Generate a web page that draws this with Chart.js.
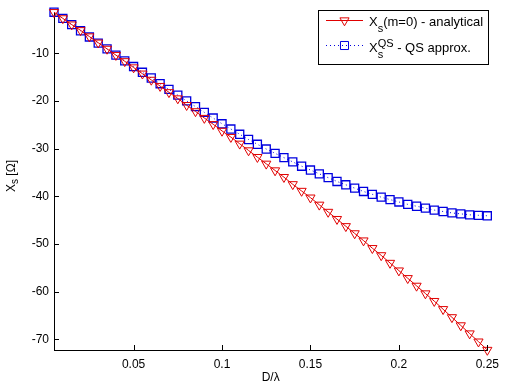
<!DOCTYPE html>
<html>
<head>
<meta charset="utf-8">
<script src="https://cdn.jsdelivr.net/npm/chart.js@4.4.1/dist/chart.umd.min.js"></script>
<style>
  html, body { margin: 0; padding: 0; background: #fff; }
  canvas { display: block; }
</style>
</head>
<body>
<canvas id="c" width="506" height="391"></canvas>
<script>
// ---- data ----
const dOverLambda = [0.005,0.01,0.015,0.02,0.025,0.03,0.035,0.04,0.045,0.05,
  0.055,0.06,0.065,0.07,0.075,0.08,0.085,0.09,0.095,0.1,
  0.105,0.11,0.115,0.12,0.125,0.13,0.135,0.14,0.145,0.15,
  0.155,0.16,0.165,0.17,0.175,0.18,0.185,0.19,0.195,0.2,
  0.205,0.21,0.215,0.22,0.225,0.23,0.235,0.24,0.245,0.25];
const xsAnalytical = [-1.4,-2.7,-4.0,-5.2,-6.5,-7.8,-9.1,-10.4,-11.7,-13.0,
  -14.3,-15.6,-16.9,-18.2,-19.5,-20.9,-22.2,-23.6,-24.9,-26.3,
  -27.6,-29.0,-30.4,-31.8,-33.2,-34.6,-36.0,-37.5,-38.9,-40.3,
  -41.8,-43.3,-44.8,-46.3,-47.8,-49.3,-50.9,-52.4,-54.0,-55.6,
  -57.2,-58.8,-60.4,-62.0,-63.7,-65.4,-67.1,-68.8,-70.5,-72.25];
const xsQS = [-1.4,-2.7,-4.0,-5.3,-6.6,-7.9,-9.1,-10.4,-11.6,-12.8,
  -14.0,-15.2,-16.4,-17.6,-18.8,-20.0,-21.2,-22.4,-23.6,-24.8,
  -25.9,-27.0,-28.1,-29.1,-30.1,-31.0,-31.9,-32.8,-33.7,-34.5,
  -35.3,-36.1,-36.9,-37.6,-38.3,-39.0,-39.6,-40.2,-40.7,-41.2,
  -41.7,-42.1,-42.5,-42.9,-43.2,-43.5,-43.7,-43.9,-44.0,-44.1];
const xTicks = [0.05, 0.1, 0.15, 0.2, 0.25];
const yTicks = [-70, -60, -50, -40, -30, -20, -10];

const FONT = '"Liberation Sans", Arial, Helvetica, sans-serif';
const RED = '#e00000';
const BLUE = '#0000e0';

Chart.defaults.color = '#000';
Chart.defaults.font.family = FONT;
Chart.defaults.font.size = 12;

function pts(xs, ys) { return xs.map((x, i) => ({ x: x, y: ys[i] })); }

function drawMarker(ctx, style, x, y, r, rot, color) {
  ctx.save();
  ctx.strokeStyle = color;
  ctx.lineWidth = 1;
  ctx.setLineDash([]);
  ctx.beginPath();
  if (style === 'triangle') {
    let rad = rot * Math.PI / 180;
    ctx.moveTo(x + Math.sin(rad) * r, y - Math.cos(rad) * r);
    rad += 2 * Math.PI / 3;
    ctx.lineTo(x + Math.sin(rad) * r, y - Math.cos(rad) * r);
    rad += 2 * Math.PI / 3;
    ctx.lineTo(x + Math.sin(rad) * r, y - Math.cos(rad) * r);
    ctx.closePath();
  } else {
    const s = Math.SQRT1_2 * r;
    ctx.rect(x - s, y - s, 2 * s, 2 * s);
  }
  ctx.stroke();
  ctx.restore();
}

const decorPlugin = {
  id: 'decor',
  afterDraw(chart) {
    const ctx = chart.ctx;
    const xs = chart.scales.x, ys = chart.scales.y;
    const a = chart.chartArea;
    ctx.save();
    // inward tick marks
    ctx.strokeStyle = '#000';
    ctx.lineWidth = 1;
    ctx.beginPath();
    xTicks.forEach(v => {
      const px = Math.round(xs.getPixelForValue(v)) + 0.5;
      ctx.moveTo(px, a.bottom);
      ctx.lineTo(px, a.bottom - 5);
    });
    yTicks.forEach(v => {
      const py = Math.round(ys.getPixelForValue(v)) + 0.5;
      ctx.moveTo(a.left, py);
      ctx.lineTo(a.left + 5, py);
    });
    ctx.stroke();

    // axis titles
    ctx.fillStyle = '#000';
    ctx.font = '12px ' + FONT;
    ctx.textAlign = 'center';
    ctx.textBaseline = 'middle';
    ctx.fillText('D/\u03bb', (a.left + a.right) / 2, 378);

    const big = '12px ' + FONT, small = '10px ' + FONT;
    ctx.save();
    ctx.translate(15, 176);
    ctx.rotate(-Math.PI / 2);
    ctx.textAlign = 'left';
    ctx.textBaseline = 'alphabetic';
    ctx.font = big; const wX = ctx.measureText('X').width;
    ctx.font = small; const wS = ctx.measureText('s').width;
    ctx.font = big; const wR = ctx.measureText(' [\u03a9]').width;
    let x0 = -(wX + wS + wR) / 2;
    ctx.font = big; ctx.fillText('X', x0, 0);
    ctx.font = small; ctx.fillText('s', x0 + wX, 3);
    ctx.font = big; ctx.fillText(' [\u03a9]', x0 + wX + wS, 0);
    ctx.restore();

    // legend
    const L = 318, T = 10, R = 489, B = 65;
    ctx.fillStyle = '#fff';
    ctx.fillRect(L, T, R - L, B - T);
    ctx.strokeStyle = '#000';
    ctx.strokeRect(L + 0.5, T + 0.5, R - L - 1, B - T - 1);

    const lbig = '13px ' + FONT, lsmall = '11px ' + FONT;
    ctx.font = lbig; const lX = ctx.measureText('X').width;
    ctx.font = lsmall; const lS = ctx.measureText('s').width;
    const lQS = ctx.measureText('QS').width;

    // row 1
    const y1 = 20.5;
    ctx.strokeStyle = RED;
    ctx.beginPath(); ctx.moveTo(326, y1); ctx.lineTo(363, y1); ctx.stroke();
    drawMarker(ctx, 'triangle', 344.5, y1, 5.3, 180, RED);
    ctx.fillStyle = '#000';
    ctx.textAlign = 'left';
    ctx.textBaseline = 'alphabetic';
    ctx.font = lbig; ctx.fillText('X', 369, 26);
    ctx.font = lsmall; ctx.fillText('s', 369 + lX, 31.5);
    ctx.font = lbig; ctx.fillText('(m=0) - analytical', 369 + lX + lS, 26);

    // row 2
    const y2 = 45.5;
    ctx.strokeStyle = BLUE;
    ctx.setLineDash([1, 3]);
    ctx.beginPath(); ctx.moveTo(326, y2); ctx.lineTo(363, y2); ctx.stroke();
    ctx.setLineDash([]);
    drawMarker(ctx, 'rect', 344.5, y2, 5.7, 0, BLUE);
    ctx.fillStyle = '#000';
    ctx.font = lbig; ctx.fillText('X', 369, 51.5);
    ctx.font = lsmall;
    ctx.fillText('QS', 369 + lX, 46.5);
    ctx.fillText('s', 369 + lX, 57.5);
    ctx.font = lbig; ctx.fillText(' - QS approx.', 369 + lX + Math.max(lQS, lS), 51.5);
    ctx.restore();
  }
};

new Chart(document.getElementById('c'), {
  type: 'line',
  data: {
    datasets: [
      {
        label: 'Xs(m=0) - analytical',
        data: pts(dOverLambda, xsAnalytical),
        borderColor: RED,
        borderWidth: 1,
        pointStyle: 'triangle',
        rotation: 180,
        pointRadius: 5.3,
        pointBorderColor: RED,
        pointBackgroundColor: 'rgba(0,0,0,0)',
        pointBorderWidth: 1,
        fill: false,
        tension: 0,
        clip: false
      },
      {
        label: 'Xs^QS - QS approx.',
        data: pts(dOverLambda, xsQS),
        borderColor: BLUE,
        borderWidth: 1,
        borderDash: [1, 3],
        pointStyle: 'rect',
        pointRadius: 5.7,
        pointBorderColor: BLUE,
        pointBackgroundColor: 'rgba(0,0,0,0)',
        pointBorderWidth: 1.3,
        fill: false,
        tension: 0,
        clip: false
      }
    ]
  },
  options: {
    responsive: false,
    devicePixelRatio: 1,
    animation: false,
    events: [],
    layout: { padding: { left: 0, top: 8, right: 17, bottom: 0 } },
    plugins: { legend: { display: false }, tooltip: { enabled: false } },
    scales: {
      x: {
        type: 'linear',
        min: 0.005,
        max: 0.25,
        grid: { display: false, drawTicks: false },
        border: { display: true, color: '#000', width: 1 },
        ticks: { padding: 7, color: '#000', font: { size: 12, family: FONT },
                 maxRotation: 0, autoSkip: false, callback: v => String(v) },
        afterBuildTicks: s => { s.ticks = xTicks.map(v => ({ value: v })); },
        afterFit: s => { s.height = 41; }
      },
      y: {
        type: 'linear',
        min: -72.25,
        max: -1.4,
        grid: { display: false, drawTicks: false },
        border: { display: true, color: '#000', width: 1 },
        ticks: { padding: 5, color: '#000', font: { size: 12, family: FONT },
                 autoSkip: false, callback: v => String(v) },
        afterBuildTicks: s => { s.ticks = yTicks.map(v => ({ value: v })); },
        afterFit: s => { s.width = 54; }
      }
    }
  },
  plugins: [decorPlugin]
});
</script>
</body>
</html>
